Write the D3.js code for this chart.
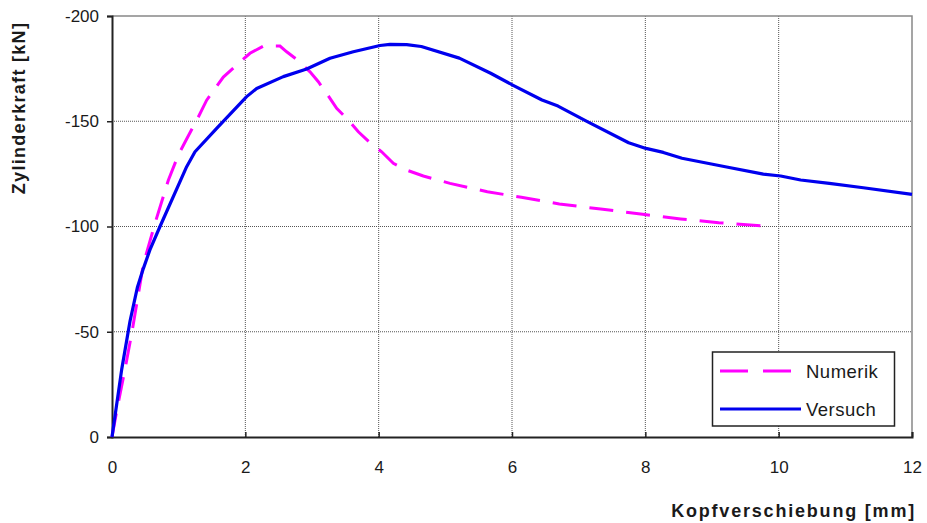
<!DOCTYPE html>
<html>
<head>
<meta charset="utf-8">
<script src="https://cdn.jsdelivr.net/npm/d3@7"></script>
<style>
  html, body { margin: 0; padding: 0; background: #fff; }
  svg { display: block; }
  text { font-family: "Liberation Sans", Arial, sans-serif; fill: #1a1a1a; }
</style>
</head>
<body>
<svg id="chart" width="927" height="523"></svg>
<script>
// ---- data ----
const xTicks = [0, 2, 4, 6, 8, 10, 12];
const yTicks = [0, -50, -100, -150, -200];

const seriesNames = ["Numerik", "Versuch"];

const numerikX = [0, 0.08, 0.2, 0.3, 0.38, 0.47, 0.645, 0.845, 0.995, 1.11, 1.295, 1.42, 1.67, 1.845, 2.07, 2.27, 2.52, 2.62, 2.77, 2.97, 3.095, 3.27, 3.37, 3.545, 3.695, 3.87, 4.045, 4.22, 4.42, 4.67, 5.07, 5.63, 6.14, 6.71, 7.33, 7.96, 8.53, 9.1, 9.8];
const numerikY = [0, -14, -33, -50, -65, -82, -101.5, -122, -134, -141, -152, -160, -171, -176, -182.3, -185.7, -185.7, -183, -179.4, -173.5, -168.8, -160.9, -156.1, -150.6, -145, -139.8, -135.5, -130, -126.8, -124, -120.5, -116.5, -113.9, -110.7, -108.3, -105.8, -103.6, -101.8, -100.2];

const versuchX = [0, 0.145, 0.27, 0.38, 0.47, 0.57, 0.72, 1.12, 1.245, 1.57, 2.02, 2.17, 2.57, 2.92, 3.27, 3.62, 4.02, 4.17, 4.42, 4.64, 5.21, 5.68, 6.01, 6.45, 6.69, 7.13, 7.75, 8.01, 8.27, 8.55, 9.2, 9.77, 10.03, 10.33, 10.76, 11.27, 12];
const versuchY = [0, -32, -55, -71, -80, -89, -100, -128.4, -135.5, -146.6, -161.7, -165.6, -171.2, -174.8, -179.9, -183, -186, -186.5, -186.4, -185.5, -180, -172.8, -167.2, -160.1, -157.2, -149.8, -139.8, -137.1, -135.2, -132.4, -128.4, -124.9, -124, -122.1, -120.5, -118.4, -115.3];

// ---- layout ----
const svg = d3.select("#chart");
const L = 112, R = 912, T = 16, B = 437;

const x = d3.scaleLinear().domain([0, 12]).range([L, R]);
const y = d3.scaleLinear().domain([0, -200]).range([B, T]);

// grid
const grid = svg.append("g");
grid.selectAll("line.v").data(xTicks.filter(d => d > 0 && d < 12)).join("line")
  .attr("x1", d => x(d)).attr("x2", d => x(d)).attr("y1", T).attr("y2", B)
  .attr("stroke", "#555").attr("stroke-width", 1).attr("stroke-dasharray", "1,1");
grid.selectAll("line.h").data(yTicks.filter(d => d !== 0 && d !== -200)).join("line")
  .attr("x1", L).attr("x2", R).attr("y1", d => y(d)).attr("y2", d => y(d))
  .attr("stroke", "#555").attr("stroke-width", 1).attr("stroke-dasharray", "1,1");

// plot border (top & right)
svg.append("path")
  .attr("d", `M${L},${T}H${R}V${B}`)
  .attr("fill", "none").attr("stroke", "#888").attr("stroke-width", 1.5);

// axes
const yAxis = d3.axisLeft(y).tickValues(yTicks).tickFormat(d => String(d)).tickSize(5).tickPadding(8);
const gy = svg.append("g").attr("transform", `translate(${L},0)`).call(yAxis);
gy.select(".domain").attr("stroke", "#222").attr("stroke-width", 2);
gy.selectAll(".tick line").attr("stroke", "#222").attr("stroke-width", 1.5);

const xAxis = d3.axisBottom(x).tickValues(xTicks).tickFormat(d => String(d)).tickSize(-5).tickPadding(0);
const gx = svg.append("g").attr("transform", `translate(0,${B})`).call(xAxis);
gx.select(".domain").attr("stroke", "#222").attr("stroke-width", 2);
gx.selectAll(".tick line").attr("stroke", "#222").attr("stroke-width", 1.5);

svg.selectAll(".tick text").style("font-size", "17px").attr("fill", "#1a1a1a")
  .style("font-family", "'Liberation Sans', Arial, sans-serif");
gx.selectAll(".tick text").attr("dy", null).attr("y", 36);

// lines
const line = d3.line().x(d => x(d[0])).y(d => y(d[1]));
const numData = numerikX.map((v, i) => [v, numerikY[i]]);
const verData = versuchX.map((v, i) => [v, versuchY[i]]);

svg.append("path").datum(numData).attr("d", line)
  .attr("fill", "none").attr("stroke", "#ff00ff").attr("stroke-width", 3)
  .attr("stroke-dasharray", "24,13");
svg.append("path").datum(verData).attr("d", line)
  .attr("fill", "none").attr("stroke", "#0000ee").attr("stroke-width", 3.2)
  .attr("stroke-linejoin", "round");

// axis titles
svg.append("text").attr("x", 916).attr("y", 517).attr("text-anchor", "end")
  .style("font-size", "18px").style("font-weight", "bold").style("letter-spacing", "1.8px")
  .text("Kopfverschiebung [mm]");
svg.append("text").attr("transform", "translate(25,108) rotate(-90)").attr("text-anchor", "middle")
  .style("font-size", "18px").style("font-weight", "bold").style("letter-spacing", "1.3px")
  .text("Zylinderkraft [kN]");

// legend
const lg = svg.append("g");
lg.append("rect").attr("x", 712.5).attr("y", 352).attr("width", 182).attr("height", 74)
  .attr("fill", "#fff").attr("stroke", "#222").attr("stroke-width", 1.5);
const legendRows = [
  { name: seriesNames[0], color: "#ff00ff", dash: "28,15", x2: 791, yy: 371 },
  { name: seriesNames[1], color: "#0000ee", dash: null, x2: 801, yy: 409 }
];
legendRows.forEach(r => {
  lg.append("line").attr("x1", 720).attr("x2", r.x2).attr("y1", r.yy).attr("y2", r.yy)
    .attr("stroke", r.color).attr("stroke-width", 3.2).attr("stroke-dasharray", r.dash);
  lg.append("text").attr("x", 806).attr("y", r.yy + 6.5).style("font-size", "18.5px")
    .style("letter-spacing", "0.5px").text(r.name);
});
</script>
</body>
</html>
